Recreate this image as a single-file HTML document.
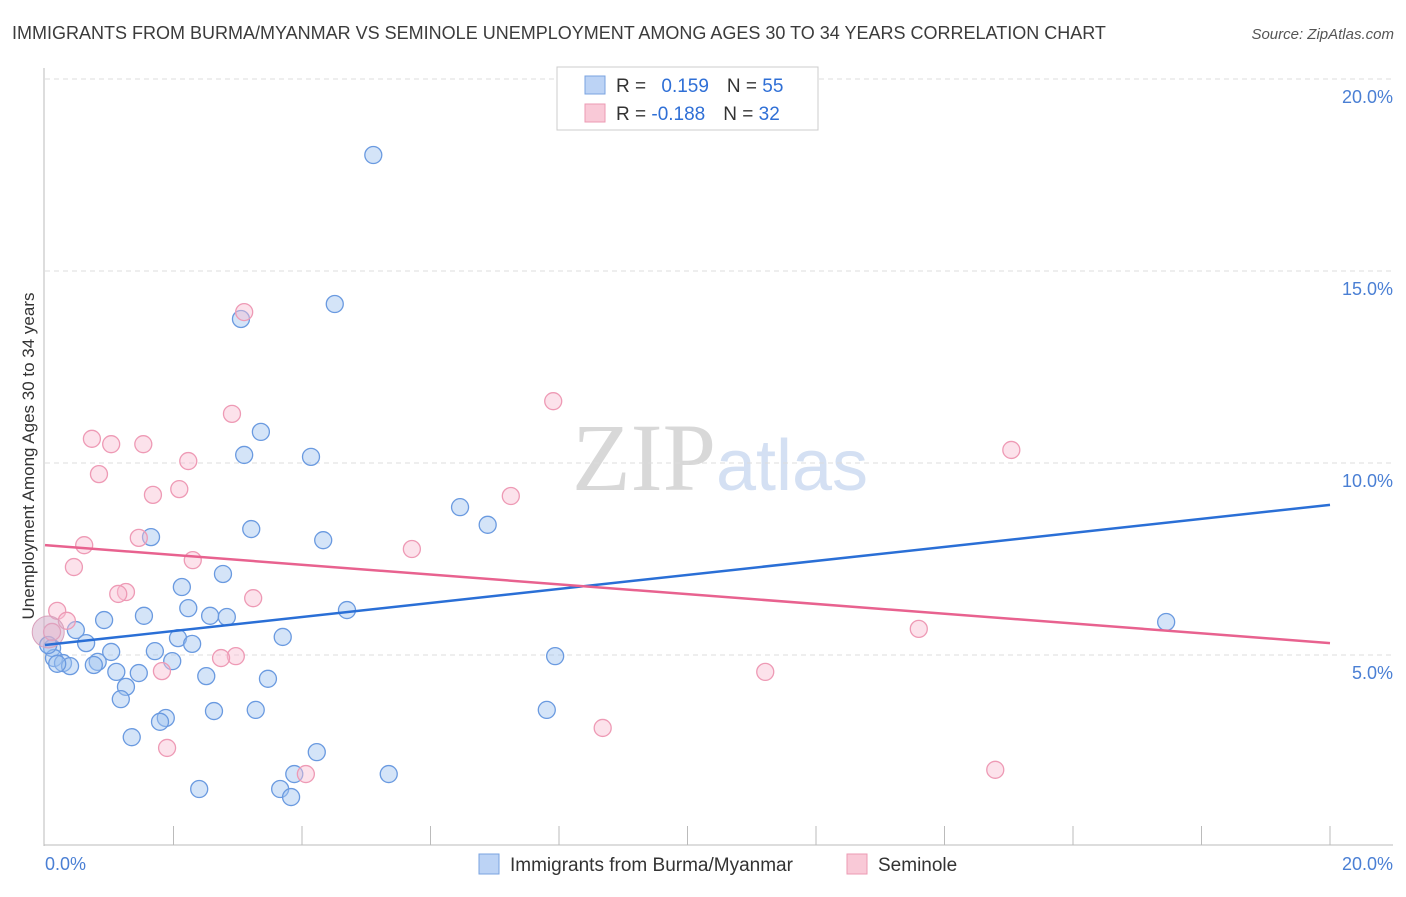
<!DOCTYPE html>
<html><head><meta charset="utf-8"><style>
body{margin:0;background:#fff;font-family:"Liberation Sans",sans-serif;}
svg text{font-family:"Liberation Sans",sans-serif;}
</style></head><body>
<svg id="chart" width="1406" height="892" xmlns="http://www.w3.org/2000/svg">
<text x="12" y="39" font-size="18" fill="#3b3b3b">IMMIGRANTS FROM BURMA/MYANMAR VS SEMINOLE UNEMPLOYMENT AMONG AGES 30 TO 34 YEARS CORRELATION CHART</text>
<text x="1394" y="39" font-size="15" fill="#555" text-anchor="end" font-style="italic">Source: ZipAtlas.com</text>
<text transform="translate(34,456) rotate(-90)" font-size="17" fill="#333" text-anchor="middle">Unemployment Among Ages 30 to 34 years</text>
<text x="720" y="490" font-size="96" text-anchor="middle" fill="#ddd" font-family="Liberation Serif"><tspan fill="#d8d8d8" font-family="Liberation Serif">ZIP</tspan><tspan fill="#d4e0f3" font-family="Liberation Sans" font-size="72">atlas</tspan></text>
<g id="grid"></g><g id="axes"></g><g id="points"></g><g id="trends"></g>
<g>
<rect x="557" y="67" width="261" height="63" fill="#fff" stroke="#ccc"/>
<rect x="585" y="76" width="20" height="18" fill="#bcd3f5" stroke="#7aa3e0"/>
<text x="616" y="92" font-size="19" fill="#333">R = <tspan fill="#2f6fd6" dx="10">0.159</tspan><tspan dx="18" fill="#333">N = </tspan><tspan fill="#2f6fd6">55</tspan></text>
<rect x="585" y="104" width="20" height="18" fill="#f9c9d7" stroke="#ec9ab3"/>
<text x="616" y="120" font-size="19" fill="#333">R = <tspan fill="#2f6fd6">-0.188</tspan><tspan dx="18" fill="#333">N = </tspan><tspan fill="#2f6fd6">32</tspan></text>
</g>
<g>
<rect x="479" y="854" width="20" height="20" fill="#bcd3f5" stroke="#7aa3e0"/>
<text x="510" y="871" font-size="19" fill="#333">Immigrants from Burma/Myanmar</text>
<rect x="847" y="854" width="20" height="20" fill="#f9c9d7" stroke="#ec9ab3"/>
<text x="878" y="871" font-size="19" fill="#333">Seminole</text>
</g>
</svg>
<script>
const blueX=[5.11,4.51,3.05,3.36,3.10,4.14,6.46,6.89,3.21,1.65,4.33,2.77,2.13,4.70,1.54,2.23,0.92,2.57,2.83,0.48,2.07,0.64,3.70,2.29,1.71,1.03,0.11,1.98,0.82,0.14,0.28,0.39,0.76,1.11,1.46,2.51,3.47,1.26,7.94,1.18,2.63,3.28,7.81,1.88,1.79,1.35,4.23,3.88,5.35,2.40,3.66,3.83,17.45,0.05,0.19];
const blueY=[18.02,14.14,13.75,10.81,10.21,10.16,8.85,8.39,8.28,8.07,7.99,7.11,6.77,6.17,6.02,6.22,5.91,6.02,5.99,5.65,5.44,5.31,5.47,5.29,5.10,5.08,5.18,4.84,4.82,4.92,4.79,4.71,4.74,4.56,4.53,4.45,4.38,4.17,4.97,3.85,3.54,3.57,3.57,3.36,3.26,2.86,2.47,1.90,1.90,1.51,1.51,1.30,5.86,5.26,4.77];
const pinkX=[3.10,2.91,7.91,0.73,1.03,1.53,2.23,0.84,15.04,2.09,1.68,7.25,1.46,0.61,5.71,2.30,0.45,1.26,1.14,3.24,0.19,0.34,0.11,13.60,2.97,2.74,1.82,11.21,8.68,1.90,4.06,14.79];
const pinkY=[13.93,11.28,11.61,10.63,10.49,10.49,10.05,9.71,10.34,9.32,9.17,9.14,8.05,7.86,7.76,7.47,7.29,6.64,6.59,6.48,6.15,5.89,5.60,5.68,4.97,4.92,4.58,4.56,3.10,2.58,1.90,2.01];
const blueTrend=[5.26,8.91];
const pinkTrend=[7.86,5.31];
const yTicks=[5,10,15,20];
const yTickLabels=["5.0%","10.0%","15.0%","20.0%"];
const xTickLabels=["0.0%","20.0%"];
const NS="http://www.w3.org/2000/svg";
const X0=45,X1=1330,YB=847,YPER=38.4;
function sx(v){return X0+v*(X1-X0)/20;}
function sy(v){return YB-v*YPER;}
function mk(t,a,p){const e=document.createElementNS(NS,t);for(const k in a)e.setAttribute(k,a[k]);document.getElementById(p).appendChild(e);return e;}
yTicks.forEach((t,i)=>{
 const l=mk('line',{x1:45,x2:1393,y1:sy(t),y2:sy(t),stroke:'#ddd','stroke-dasharray':'5,4'},'grid');
 
 
 const tx=mk('text',{x:1393,y:sy(t)+24,'font-size':18,fill:'#4a7fd4','text-anchor':'end'},'axes');
 tx.textContent=yTickLabels[i];
 
 
});
let a=mk('line',{x1:44,x2:44,y1:68,y2:846,stroke:'#bbb'},'axes');


a=mk('line',{x1:44,x2:1393,y1:845,y2:845,stroke:'#bbb'},'axes');


for(let i=1;i<=10;i++){
 const t=mk('line',{x1:sx(i*2),x2:sx(i*2),y1:826,y2:845,stroke:'#bbb'},'axes');
 
 
}
let xl=mk('text',{x:45,y:870,'font-size':18,fill:'#4a7fd4'},'axes');xl.textContent=xTickLabels[0];


xl=mk('text',{x:1393,y:870,'font-size':18,fill:'#4a7fd4','text-anchor':'end'},'axes');xl.textContent=xTickLabels[1];


blueX.forEach((x,i)=>{
 const c=mk('circle',{cx:sx(x),cy:sy(blueY[i]),r:8.5,fill:'rgba(160,195,240,0.45)',stroke:'#6a9ae0','stroke-width':1.3},'points');
 
 
});
pinkX.forEach((x,i)=>{
 const c=mk('circle',{cx:sx(x),cy:sy(pinkY[i]),r:8.5,fill:'rgba(248,190,210,0.45)',stroke:'#ee9ab5','stroke-width':1.3},'points');
 
 
});
let bc=mk('circle',{cx:sx(0.05),cy:sy(5.6),r:16,fill:'rgba(210,170,200,0.5)',stroke:'#d9a0bb'},'points');


let tl=mk('line',{x1:sx(0),y1:sy(blueTrend[0]),x2:sx(20),y2:sy(blueTrend[1]),stroke:'#2a6fd6','stroke-width':2.5},'trends');


tl=mk('line',{x1:sx(0),y1:sy(pinkTrend[0]),x2:sx(20),y2:sy(pinkTrend[1]),stroke:'#e8628f','stroke-width':2.5},'trends');


</script>
</body></html>
